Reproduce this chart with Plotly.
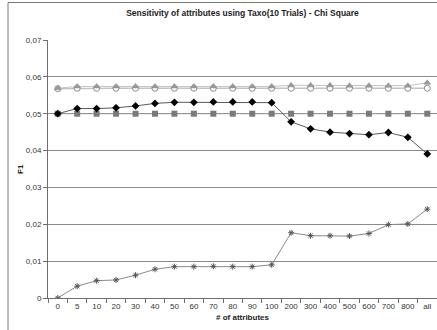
import plotly.graph_objects as go

categories = ["0", "5", "10", "20", "30", "40", "50", "60", "70", "80", "90", "100",
              "200", "300", "400", "500", "600", "700", "800", "all"]

circle_vals = [0.0568, 0.0569, 0.0569, 0.0569, 0.0569, 0.0569, 0.0569, 0.0569, 0.0569, 0.0569,
               0.0569, 0.0569, 0.0569, 0.0569, 0.0569, 0.0569, 0.0569, 0.0569, 0.0569, 0.0569]
triangle_vals = [0.0569, 0.0574, 0.0574, 0.0574, 0.0574, 0.0574, 0.0574, 0.0574, 0.0574, 0.0574,
                 0.0574, 0.0574, 0.0577, 0.0577, 0.0577, 0.0576, 0.0576, 0.0576, 0.0576, 0.0584]
diamond_vals = [0.0500, 0.0514, 0.0514, 0.0516, 0.0521, 0.0528, 0.0531, 0.0531, 0.0532, 0.0532,
                0.0532, 0.0530, 0.0478, 0.0459, 0.0450, 0.0446, 0.0443, 0.0449, 0.0436, 0.0391]
square_vals = [0.0500] * 20
star_vals = [0.0000, 0.0032, 0.0047, 0.0049, 0.0062, 0.0078, 0.0085, 0.0085, 0.0086, 0.0085,
             0.0085, 0.0090, 0.0177, 0.0169, 0.0169, 0.0168, 0.0175, 0.0199, 0.0201, 0.0241]

y_tickvals = [0, 0.01, 0.02, 0.03, 0.04, 0.05, 0.06, 0.07]
y_ticktext = ["0", "0,01", "0,02", "0,03", "0,04", "0,05", "0,06", "0,07"]

title_text = "Sensitivity of attributes using Taxo(10 Trials) - Chi Square"
x_title = "# of attributes"
y_title = "F1"

FONT = "Liberation Sans, Arial, sans-serif"

fig = go.Figure()

fig.add_trace(go.Scatter(
    x=categories, y=square_vals, mode="lines+markers",
    line=dict(color="#9a9a9a", width=1),
    marker=dict(symbol="square", size=6, color="#7a7a7a", line=dict(width=0)),
    showlegend=False))
fig.add_trace(go.Scatter(
    x=categories, y=circle_vals, mode="lines+markers",
    line=dict(color="#c4c4c4", width=1.5),
    marker=dict(symbol="circle", size=6, color="white", line=dict(color="#8a8a8a", width=1)),
    showlegend=False))
fig.add_trace(go.Scatter(
    x=categories, y=triangle_vals, mode="lines+markers",
    line=dict(color="#c4c4c4", width=1),
    marker=dict(symbol="triangle-up", size=6, color="#9a9a9a", line=dict(color="#888888", width=0.5)),
    showlegend=False))
fig.add_trace(go.Scatter(
    x=categories, y=diamond_vals, mode="lines+markers",
    line=dict(color="#5a5a5a", width=1),
    marker=dict(symbol="diamond", size=6, color="black", line=dict(width=0)),
    showlegend=False))
fig.add_trace(go.Scatter(
    x=categories, y=star_vals, mode="lines+markers",
    line=dict(color="#8a8a8a", width=1),
    marker=dict(symbol="asterisk-open", size=5, color="#555555", line=dict(color="#555555", width=1)),
    showlegend=False))

fig.update_layout(
    width=437, height=330,
    margin=dict(l=48, r=0, t=40, b=32, autoexpand=False),
    paper_bgcolor="white", plot_bgcolor="white",
    font=dict(family=FONT, size=8, color="#333333"),
    title=dict(text="<b>" + title_text + "</b>", x=0.5, xref="paper", xanchor="center",
               y=1 - 13 / 330, yanchor="middle", font=dict(size=8.5, color="#222222")),
    xaxis=dict(
        type="category", range=[-0.5, 19.5], automargin=False,
        showline=True, linecolor="#6e6e6e", linewidth=1,
        ticks="outside", ticklen=4, tickcolor="#6e6e6e", tickson="boundaries",
        showgrid=False, zeroline=False, tickangle=0,
        tickfont=dict(size=8, color="#333333"),
        title=dict(text="<b>" + x_title + "</b>", font=dict(size=8, color="#222222"), standoff=4),
    ),
    yaxis=dict(
        range=[0, 0.07], tickvals=y_tickvals, ticktext=y_ticktext, automargin=False,
        showline=True, linecolor="#6e6e6e", linewidth=1,
        ticks="outside", ticklen=4, tickcolor="#6e6e6e",
        showgrid=True, gridcolor="#8c8c8c", gridwidth=1, zeroline=False,
        tickfont=dict(size=8, color="#333333"),
    ),
    annotations=[dict(
        text="<b>" + y_title + "</b>", x=(20 - 48) / 389, y=0.5, xref="paper", yref="paper",
        textangle=-90, showarrow=False, font=dict(size=8, color="#222222"),
        xanchor="center", yanchor="middle")],
    shapes=[dict(
        type="rect", xref="paper", yref="paper",
        x0=(8 - 48) / 389, x1=1.05, y0=-0.3, y1=(298 - 2.5) / 258,
        line=dict(color="#7a7a7a", width=1), fillcolor="rgba(0,0,0,0)", layer="below")],
)

fig.write_html("out.html",
               config={"displayModeBar": False},
               post_script="document.body.style.margin='0';document.body.style.overflow='hidden';")
